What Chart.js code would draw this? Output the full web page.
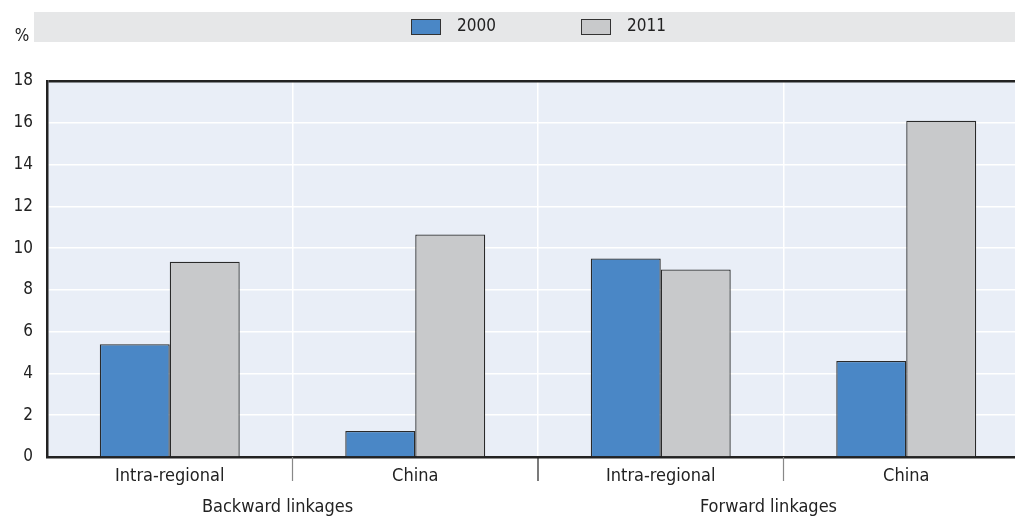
<!DOCTYPE html>
<html>
<head>
<meta charset="utf-8">
<script src="https://cdn.jsdelivr.net/npm/chart.js@4/dist/chart.umd.min.js"></script>
<style>
  html, body { margin: 0; padding: 0; background: #fff; overflow: hidden; }
  #wrap { width: 1029px; height: 517px; }
</style>
</head>
<body>
<div id="wrap"><canvas id="chart"></canvas></div>
<script>
// data
const categories = ['Intra-regional', 'China', 'Intra-regional', 'China'];
const groups = ['Backward linkages', 'Forward linkages'];
const values2000 = [5.4, 1.25, 9.5, 4.6];
const values2011 = [9.35, 10.65, 8.98, 16.1];
const yTicks = [0, 2, 4, 6, 8, 10, 12, 14, 16, 18];

const FONT = "'DejaVu Sans Condensed', 'Liberation Sans Narrow', Arial, sans-serif";
const TEXT = '#222';

// legend band, plot background, % label and the separators under the axis
const decor = {
    id: 'decor',
    beforeDraw(chart) {
        const { ctx, chartArea } = chart;
        ctx.save();
        // legend band
        ctx.fillStyle = '#e6e7e8';
        ctx.fillRect(34, 12, chart.width - 34, 30);
        ctx.font = '17px ' + FONT;
        ctx.textBaseline = 'middle';
        const centres = [426, 596];
        chart.data.datasets.forEach((ds, i) => {
            const x = centres[i];
            ctx.fillStyle = ds.backgroundColor;
            ctx.fillRect(x - 15, 19, 30, 16);
            ctx.strokeStyle = '#333';
            ctx.lineWidth = 1;
            ctx.strokeRect(x - 14.5, 19.5, 29, 15);
            ctx.fillStyle = TEXT;
            ctx.textAlign = 'left';
            ctx.fillText(ds.label, x + 31, 27);
        });
        ctx.textAlign = 'center';
        ctx.fillText('%', 22, 37);
        // plot background
        ctx.fillStyle = '#e9eef7';
        ctx.fillRect(chartArea.left, chartArea.top, chartArea.right - chartArea.left, chartArea.bottom - chartArea.top);
        ctx.restore();
    },
    afterDraw(chart) {
        const { ctx, chartArea } = chart;
        const x = chart.scales.x;
        ctx.save();
        ctx.lineWidth = 1.2;
        for (let i = 1; i < categories.length; i++) {
            const px = (x.getPixelForValue(i - 1) + x.getPixelForValue(i)) / 2;
            ctx.strokeStyle = i === 2 ? '#222' : '#888';
            ctx.beginPath();
            ctx.moveTo(px, chartArea.bottom);
            ctx.lineTo(px, chartArea.bottom + 24);
            ctx.stroke();
        }
        ctx.restore();
    }
};

new Chart(document.getElementById('chart'), {
    type: 'bar',
    data: {
        labels: categories,
        datasets: [
            {
                label: '2000',
                data: values2000,
                backgroundColor: '#4a87c6',
                borderColor: '#2a2a2a',
                borderWidth: 1.3
            },
            {
                label: '2011',
                data: values2011,
                backgroundColor: '#c8c9cb',
                borderColor: '#2a2a2a',
                borderWidth: 1.3
            }
        ]
    },
    options: {
        responsive: true,
        maintainAspectRatio: false,
        animation: false,
        categoryPercentage: 0.57,
        barPercentage: 1,
        layout: { padding: { top: 81, left: 0, right: 0, bottom: 0 } },
        plugins: {
            tooltip: { enabled: false },
            legend: { display: false }
        },
        scales: {
            x: {
                position: 'bottom',
                afterFit(scale) {
                    scale.height = 36;
                },
                grid: {
                    offset: true,
                    color: ctx => (ctx.index === 0 || ctx.index === categories.length) ? 'rgba(0,0,0,0)' : '#ffffff',
                    lineWidth: 1.5,
                    drawTicks: false
                },
                border: { color: '#222', width: 2.5 },
                ticks: {
                    font: { family: FONT, size: 18 },
                    color: TEXT,
                    padding: 9
                }
            },
            x2: {
                type: 'category',
                labels: groups,
                position: 'bottom',
                afterFit(scale) {
                    scale.height = 24;
                },
                grid: { display: false, drawTicks: false },
                border: { display: false },
                ticks: {
                    font: { family: FONT, size: 18 },
                    color: TEXT,
                    padding: 4,
                    labelOffset: -15
                }
            },
            y: {
                min: 0,
                max: 18,
                afterBuildTicks(scale) {
                    scale.ticks = yTicks.map(v => ({ value: v }));
                },
                afterFit(scale) {
                    scale.width = 47;
                },
                grid: {
                    color: ctx => ctx.tick && ctx.tick.value === 18 ? '#222' : '#ffffff',
                    lineWidth: ctx => ctx.tick && ctx.tick.value === 18 ? 2.5 : 1.5,
                    drawTicks: false
                },
                border: { color: '#222', width: 2.5 },
                ticks: {
                    font: { family: FONT, size: 17 },
                    color: TEXT,
                    padding: 14
                }
            }
        }
    },
    plugins: [decor]
});
</script>
</body>
</html>
